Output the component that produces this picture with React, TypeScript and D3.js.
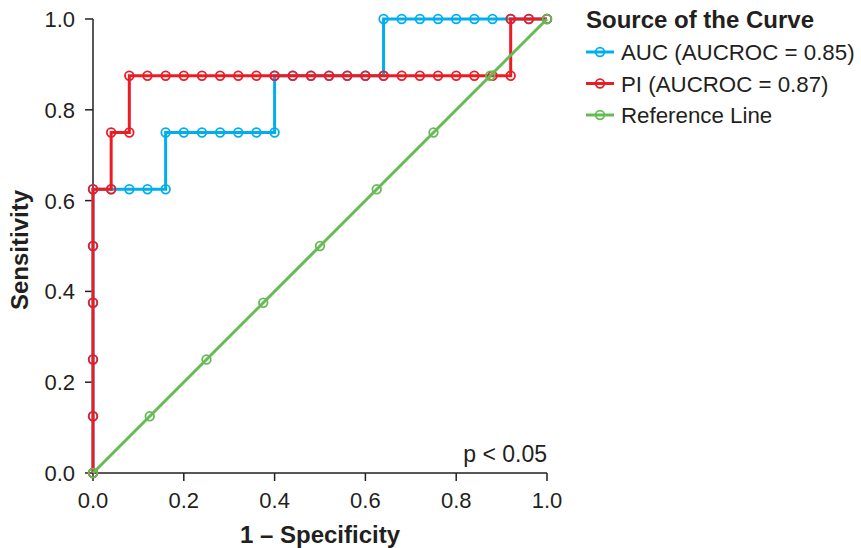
import React from "react";
import * as d3 from "d3";

const aucX = [0, 0, 0, 0, 0, 0, 0.04, 0.08, 0.12, 0.16, 0.16, 0.2, 0.24, 0.28, 0.32, 0.36, 0.4, 0.4, 0.44, 0.48, 0.52, 0.56, 0.6, 0.64, 0.64, 0.68, 0.72, 0.76, 0.8, 0.84, 0.88, 0.92, 0.96, 1.0];
const aucY = [0, 0.125, 0.25, 0.375, 0.5, 0.625, 0.625, 0.625, 0.625, 0.625, 0.75, 0.75, 0.75, 0.75, 0.75, 0.75, 0.75, 0.875, 0.875, 0.875, 0.875, 0.875, 0.875, 0.875, 1.0, 1.0, 1.0, 1.0, 1.0, 1.0, 1.0, 1.0, 1.0, 1.0];

const piX = [0, 0, 0, 0, 0, 0, 0.04, 0.04, 0.08, 0.08, 0.12, 0.16, 0.2, 0.24, 0.28, 0.32, 0.36, 0.4, 0.44, 0.48, 0.52, 0.56, 0.6, 0.64, 0.68, 0.72, 0.76, 0.8, 0.84, 0.88, 0.92, 0.92, 0.96, 1.0];
const piY = [0, 0.125, 0.25, 0.375, 0.5, 0.625, 0.625, 0.75, 0.75, 0.875, 0.875, 0.875, 0.875, 0.875, 0.875, 0.875, 0.875, 0.875, 0.875, 0.875, 0.875, 0.875, 0.875, 0.875, 0.875, 0.875, 0.875, 0.875, 0.875, 0.875, 0.875, 1.0, 1.0, 1.0];

const refX = [0, 0.125, 0.25, 0.375, 0.5, 0.625, 0.75, 0.875, 1.0];
const refY = [0, 0.125, 0.25, 0.375, 0.5, 0.625, 0.75, 0.875, 1.0];

const ticks = [0, 0.2, 0.4, 0.6, 0.8, 1.0];

const seriesNames = ["AUC (AUCROC = 0.85)", "PI (AUCROC = 0.87)", "Reference Line"];
const seriesColors = ["#00aeef", "#ed1c24", "#66bb55"];

const TEXT = "#231f20";
const FONT = "'Liberation Sans', Arial, sans-serif";

export default function App() {
  const x = d3.scaleLinear().domain([0, 1]).range([93, 547]);
  const y = d3.scaleLinear().domain([0, 1]).range([473, 19]);
  const line = d3
    .line<[number, number]>()
    .x((d) => x(d[0]))
    .y((d) => y(d[1]));

  const series = [
    { xs: aucX, ys: aucY },
    { xs: piX, ys: piY },
    { xs: refX, ys: refY },
  ].map((s, i) => ({
    pts: s.xs.map((v, j) => [v, s.ys[j]] as [number, number]),
    color: seriesColors[i],
    name: seriesNames[i],
  }));

  return (
    <svg width={861} height={548} style={{ position: "absolute", left: 0, top: 0, background: "#fff" }}>
      {/* axes */}
      <g stroke={TEXT} strokeWidth={1.5} fill="none">
        <line x1={x(0)} x2={x(0)} y1={y(1)} y2={y(0)} />
        <line x1={x(0)} x2={x(1)} y1={y(0)} y2={y(0)} />
        {ticks.map((t) => (
          <line key={"yt" + t} x1={x(0) - 8} x2={x(0)} y1={y(t)} y2={y(t)} />
        ))}
        {ticks.map((t) => (
          <line key={"xt" + t} x1={x(t)} x2={x(t)} y1={y(0)} y2={y(0) + 8} />
        ))}
      </g>
      <g fontFamily={FONT} fontSize={22} fill={TEXT}>
        {ticks.map((t) => (
          <text key={"yl" + t} x={x(0) - 18} y={y(t) + 8} textAnchor="end">
            {t.toFixed(1)}
          </text>
        ))}
        {ticks.map((t) => (
          <text key={"xl" + t} x={x(t)} y={508} textAnchor="middle">
            {t.toFixed(1)}
          </text>
        ))}
        <text x={547} y={462} textAnchor="end" fontSize={23}>
          p &lt; 0.05
        </text>
      </g>
      <text x={320} y={543} textAnchor="middle" fontFamily={FONT} fontSize={24} fontWeight="bold" fill={TEXT}>
        1 – Specificity
      </text>
      <text
        transform={`translate(28,${y(0.5) + 4}) rotate(-90)`}
        textAnchor="middle"
        fontFamily={FONT}
        fontSize={24}
        fontWeight="bold"
        fill={TEXT}
      >
        Sensitivity
      </text>

      {/* series */}
      {series.map((s, i) => (
        <g key={"s" + i}>
          <path d={line(s.pts) || ""} fill="none" stroke={s.color} strokeWidth={3} strokeLinejoin="miter" />
          {s.pts.map((p, j) => (
            <circle key={j} cx={x(p[0])} cy={y(p[1])} r={4.3} fill="none" stroke={s.color} strokeWidth={1.8} />
          ))}
        </g>
      ))}

      {/* legend */}
      <text x={586} y={28} fontFamily={FONT} fontSize={24} fontWeight="bold" fill={TEXT}>
        Source of the Curve
      </text>
      {series.map((s, i) => {
        const cy = 52 + i * 31.5;
        return (
          <g key={"lg" + i}>
            <line x1={586} x2={614} y1={cy} y2={cy} stroke={s.color} strokeWidth={3} />
            <circle cx={600} cy={cy} r={4.3} fill="none" stroke={s.color} strokeWidth={1.8} />
            <text x={621} y={cy + 8} fontFamily={FONT} fontSize={22.3} fill={TEXT}>
              {s.name}
            </text>
          </g>
        );
      })}
    </svg>
  );
}
